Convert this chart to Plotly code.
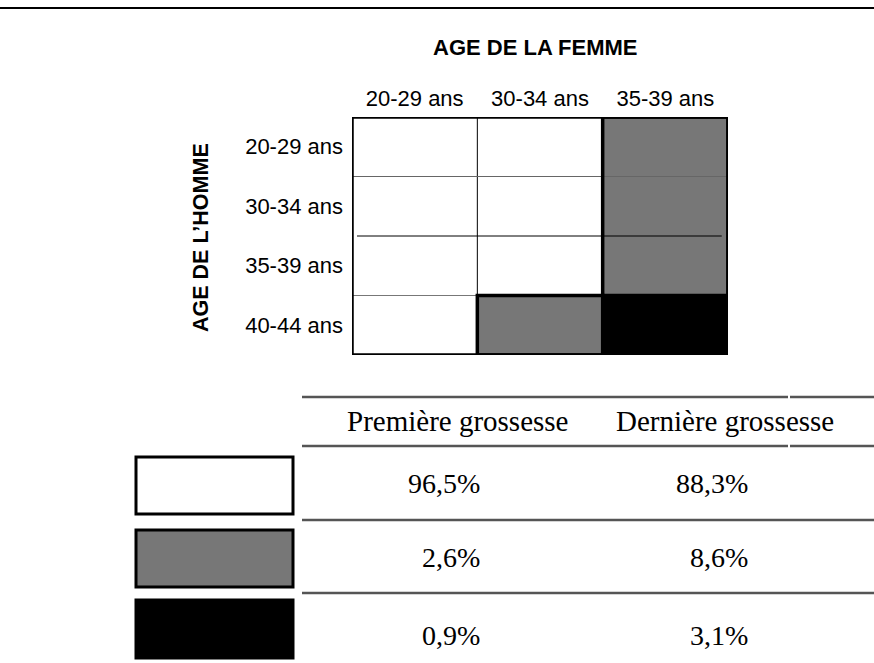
import plotly.graph_objects as go

# ---- data ----
femme_ages = ["20-29 ans", "30-34 ans", "35-39 ans"]
homme_ages = ["20-29 ans", "30-34 ans", "35-39 ans", "40-44 ans"]
cell_class = [
    [0, 0, 1],
    [0, 0, 1],
    [0, 0, 1],
    [0, 1, 2],
]
class_colors = ["#ffffff", "#777777", "#000000"]
table_headers = ["Première grossesse", "Dernière grossesse"]
premiere = ["96,5%", "2,6%", "0,9%"]
derniere = ["88,3%", "8,6%", "3,1%"]

W, H = 874, 663
SANS = "Arial, Liberation Sans, sans-serif"
SERIF = "Times New Roman, Liberation Serif, serif"


def px(x):
    return x / W


def py(y):
    return 1 - y / H


fig = go.Figure()
fig.add_trace(go.Heatmap(
    z=cell_class, x=femme_ages, y=homme_ages,
    zmin=0, zmax=len(class_colors) - 1,
    colorscale=[[i / (len(class_colors) - 1), c] for i, c in enumerate(class_colors)],
    showscale=False, hoverinfo="skip",
))

shapes = []
# thin internal lines (axis coordinates)
shapes.append(dict(type="line", xref="x", yref="y", x0=0.5, x1=0.5, y0=-0.5, y1=3.55,
                   line=dict(color="#000", width=1)))
shapes.append(dict(type="line", xref="x", yref="y", x0=-0.5, x1=2.5, y0=0.5, y1=0.5,
                   line=dict(color="#666", width=1)))
shapes.append(dict(type="line", xref="x", yref="y", x0=-0.46, x1=2.45, y0=1.5, y1=1.5,
                   line=dict(color="#000", width=1)))
shapes.append(dict(type="line", xref="x", yref="y", x0=-0.5, x1=0.5, y0=2.5, y1=2.5,
                   line=dict(color="#777", width=1)))
# thick outlines
thick = dict(color="#000", width=3.5)
shapes.append(dict(type="rect", xref="x", yref="y", x0=1.5, x1=2.5, y0=-0.5, y1=2.5, line=thick))
shapes.append(dict(type="rect", xref="x", yref="y", x0=0.5, x1=1.5, y0=2.5, y1=3.5, line=thick))
shapes.append(dict(type="rect", xref="x", yref="y", x0=-0.5, x1=2.5, y0=-0.5, y1=3.5, line=thick))

# top rule
shapes.append(dict(type="line", xref="paper", yref="paper", x0=0, x1=1, y0=py(8), y1=py(8),
                   line=dict(color="#000", width=2)))
# table rules
rule = dict(color="#555", width=2.5)
for yy, brk in [(397, True), (446, True), (520, False), (593, False)]:
    if brk:
        shapes.append(dict(type="line", xref="paper", yref="paper", x0=px(302), x1=px(788),
                           y0=py(yy), y1=py(yy), line=rule))
        shapes.append(dict(type="line", xref="paper", yref="paper", x0=px(790), x1=1,
                           y0=py(yy), y1=py(yy), line=rule))
    else:
        shapes.append(dict(type="line", xref="paper", yref="paper", x0=px(302), x1=1,
                           y0=py(yy), y1=py(yy), line=rule))
# legend swatches
sw_y = [(457, 514), (530, 587), (600, 658)]
for i, (y0, y1) in enumerate(sw_y):
    shapes.append(dict(type="rect", xref="paper", yref="paper", x0=px(136), x1=px(293),
                       y0=py(y0), y1=py(y1), fillcolor=class_colors[i],
                       line=dict(color="#000", width=3)))

ann = []
ann.append(dict(text="<b>AGE DE LA FEMME</b>", x=px(535), y=py(48), xref="paper", yref="paper",
                showarrow=False, font=dict(family=SANS, size=22, color="#000"),
                xanchor="center", yanchor="middle"))
ann.append(dict(text="<b>AGE DE L’HOMME</b>", x=px(201), y=py(238), xref="paper", yref="paper",
                showarrow=False, textangle=-90, font=dict(family=SANS, size=21.5, color="#000"),
                xanchor="center", yanchor="middle"))
col_centers = [457.5, 725]
col_right = [482, 750]
for j, h in enumerate(table_headers):
    ann.append(dict(text=h, x=px(col_centers[j]), y=py(421), xref="paper", yref="paper",
                    showarrow=False, font=dict(family=SERIF, size=29, color="#000"),
                    xanchor="center", yanchor="middle"))
row_y = [483, 557, 635]
for j, col in enumerate([premiere, derniere]):
    for i, v in enumerate(col):
        ann.append(dict(text=v, x=px(col_right[j]), y=py(row_y[i]), xref="paper", yref="paper",
                        showarrow=False, font=dict(family=SERIF, size=28, color="#000"),
                        xanchor="right", yanchor="middle"))

fig.update_layout(
    width=W, height=H,
    margin=dict(l=0, r=0, t=0, b=0),
    paper_bgcolor="white", plot_bgcolor="white",
    shapes=shapes, annotations=ann,
    xaxis=dict(domain=[px(352), px(728)], range=[-0.5, 2.5], side="top",
               showgrid=False, zeroline=False, showline=False, ticks="",
               tickfont=dict(family=SANS, size=22, color="#000"), ticklabelstandoff=6),
    yaxis=dict(domain=[py(355), py(117)], range=[3.5, -0.5],
               showgrid=False, zeroline=False, showline=False, ticks="",
               tickfont=dict(family=SANS, size=22, color="#000"), ticklabelstandoff=8),
)
fig.write_html("out.html", config={"displayModeBar": False},
               post_script="document.body.style.margin='0';document.body.style.overflow='hidden';")
